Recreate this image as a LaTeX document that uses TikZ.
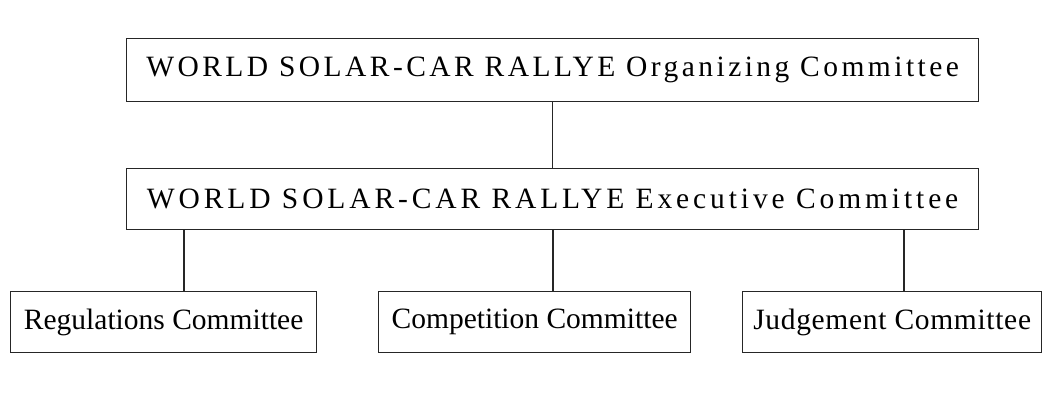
\documentclass[tikz,border=0pt]{standalone}
\usepackage{fontspec}
\setmainfont{Liberation Serif}
\newfontfamily\orgfont[LetterSpace=11.7]{Liberation Serif}
\newfontfamily\exefont[LetterSpace=13.2]{Liberation Serif}
\newfontfamily\judfont[LetterSpace=2.3]{Liberation Serif}
\begin{document}
\begin{tikzpicture}[x=1pt,y=-1pt,
  box/.style={draw=black!85,line width=1.3pt,inner sep=0pt,anchor=north west},
  conn/.style={draw=black!85,line width=1.3pt},
  txt/.style={font=\fontsize{29.5}{34}\selectfont}]
\useasboundingbox (0,0) rectangle (1053,408);
% boxes
\node[box,minimum width=852pt,minimum height=63pt] (org) at (126,38) {};
\node[txt] at (org.center) {\orgfont WORLD SOLAR-CAR RALLYE Organizing Committee};
\node[box,minimum width=852pt,minimum height=61pt] (exe) at (126,168) {};
\node[txt] at (exe.center) {\exefont WORLD SOLAR-CAR RALLYE Executive Committee};
\node[box,minimum width=306pt,minimum height=61pt] (reg) at (10,291) {};
\node[txt] at (reg.center) {Regulations Committee};
\node[box,minimum width=312pt,minimum height=61pt] (com) at (378,291) {};
\node[txt] at (com.center) {Competition Committee};
\node[box,minimum width=299pt,minimum height=61pt] (jud) at (742,291) {};
\node[txt] at (jud.center) {\judfont Judgement Committee};
% connectors
\draw[conn] (org.south) -- (exe.north);
\coordinate (c1) at (184,229);
\coordinate (c2) at (553,229);
\coordinate (c3) at (904,229);
\draw[conn] (c1) -- (c1 |- reg.north);
\draw[conn] (c2) -- (c2 |- com.north);
\draw[conn] (c3) -- (c3 |- jud.north);
\end{tikzpicture}
\end{document}
